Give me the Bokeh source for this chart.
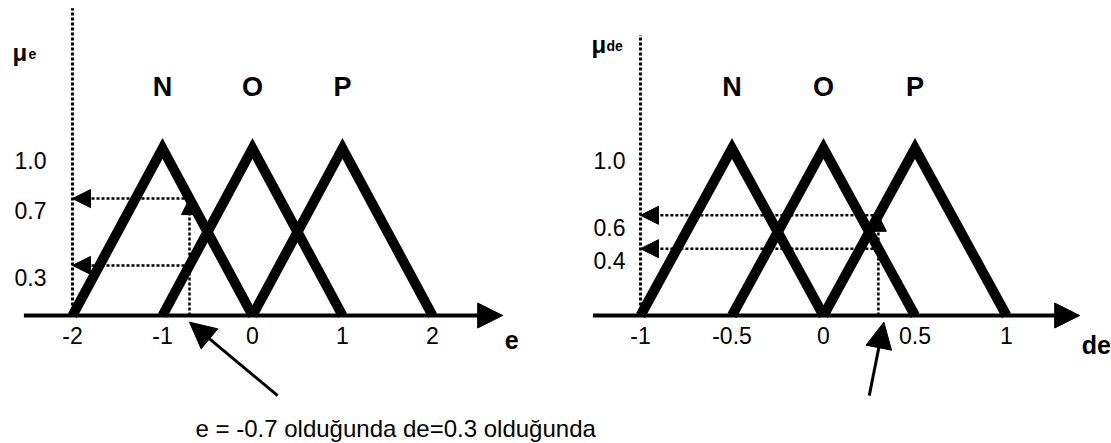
from bokeh.plotting import figure
from bokeh.models import Range1d, Arrow, NormalHead, Label
from bokeh.core.properties import value
from bokeh.embed import file_html
from bokeh.resources import INLINE

# --- fuzzy sets for the error e (triangles: left foot, peak, right foot) ---
E_N = [-2, -1, 0]
E_O = [-1, 0, 1]
E_P = [0, 1, 2]
# --- fuzzy sets for the change of error de ---
DE_N = [-1, -0.5, 0]
DE_O = [-0.5, 0, 0.5]
DE_P = [0, 0.5, 1]
MU_TRI = [0, 1, 0]
SET_NAMES = ["N", "O", "P"]

E_TICKS = [-2, -1, 0, 1, 2]
E_TICK_LABELS = ["-2", "-1", "0", "1", "2"]
DE_TICKS = [-1, -0.5, 0, 0.5, 1]
DE_TICK_LABELS = ["-1", "-0.5", "0", "0.5", "1"]

E_MU_TICKS = [1.0, 0.7, 0.3]
DE_MU_TICKS = [1.0, 0.6, 0.4]

# crisp inputs and the membership degrees they produce
E_INPUT = -0.7
E_DEGREES = [0.7, 0.3]
DE_INPUT = 0.3
DE_DEGREES = [0.6, 0.4]

CAPTION = "e = -0.7 olduğunda de=0.3 olduğunda"

# --- page geometry (pixels) ---
W, H = 1111, 443
E0_PX, E_SCALE = 72, 90       # where e = -2 sits, px per unit of e
DE0_PX, DE_SCALE = 640, 183   # where de = -1 sits, px per unit of de
BASE_PX, Y_SCALE = 315, 167   # baseline (mu = 0) from the top, px per unit of mu

FONT = "Liberation Sans"
DOT = "3 2"

p = figure(
    width=W, height=H,
    x_range=Range1d(-2 - E0_PX / E_SCALE, -2 + (W - E0_PX) / E_SCALE),
    y_range=Range1d(-(H - BASE_PX) / Y_SCALE, BASE_PX / Y_SCALE),
    x_axis_type=None, y_axis_type=None,
    toolbar_location=None, output_backend="svg",
    min_border=0, outline_line_color=None,
    background_fill_color="white", border_fill_color="white",
)
p.extra_x_ranges = {"de": Range1d(-1 - DE0_PX / DE_SCALE, -1 + (W - DE0_PX) / DE_SCALE)}


def head(size):
    return NormalHead(size=size, fill_color="black", line_color="black")


def draw_panel(sets, ticks, tick_labels, mu_ticks, x_input, degrees,
               x_min, axis_lo, axis_hi, mu_top, name, label_gap, rn):
    # dotted membership axis
    p.line([x_min, x_min], [0, mu_top], line_color="black", line_width=3,
           line_dash=DOT, x_range_name=rn)

    # horizontal axis with arrow head
    p.add_layout(Arrow(x_start=axis_lo, y_start=0, x_end=axis_hi, y_end=0,
                       line_width=4, line_color="black", end=head(25),
                       x_range_name=rn))

    # triangular membership functions
    for xs in sets:
        p.line(xs, MU_TRI, line_color="black", line_width=10,
               line_join="miter", x_range_name=rn)

    # set names above the peaks
    p.text(x=[xs[1] for xs in sets], y=[1] * len(sets), text=SET_NAMES,
           text_align="center", text_baseline="middle", y_offset=-62,
           text_font=value(FONT), text_font_style="bold",
           text_font_size="27px", text_color="black", x_range_name=rn)

    # tick labels on the variable axis
    p.text(x=ticks, y=[0] * len(ticks), text=tick_labels,
           text_align="center", text_baseline="top", y_offset=11,
           text_font=value(FONT), text_font_size="23px",
           text_color="black", x_range_name=rn)
    p.text(x=[axis_hi], y=[0], text=[name], text_align="left",
           text_baseline="top", x_offset=2, y_offset=15,
           text_font=value(FONT), text_font_style="bold",
           text_font_size="25px", text_color="black", x_range_name=rn)

    # membership grade labels
    p.text(x=[x_min] * len(mu_ticks), y=mu_ticks,
           text=[f"{v:.1f}" for v in mu_ticks],
           text_align="right", text_baseline="middle",
           x_offset=-label_gap, y_offset=12,
           text_font=value(FONT), text_font_size="23px",
           text_color="black", x_range_name=rn)

    # dotted projection of the crisp input
    p.add_layout(Arrow(x_start=x_input, y_start=0, x_end=x_input, y_end=max(degrees),
                       line_width=2.5, line_dash=DOT, line_color="black",
                       end=head(16), x_range_name=rn))
    for d in degrees:
        p.add_layout(Arrow(x_start=x_input, y_start=d, x_end=x_min, y_end=d,
                           line_width=2.5, line_dash=DOT, line_color="black",
                           end=head(18), x_range_name=rn))


draw_panel([E_N, E_O, E_P], E_TICKS, E_TICK_LABELS, E_MU_TICKS, E_INPUT, E_DEGREES,
           x_min=E_TICKS[0], axis_lo=-2.54, axis_hi=2.78, mu_top=1.84,
           name="e", label_gap=26, rn="default")
draw_panel([DE_N, DE_O, DE_P], DE_TICKS, DE_TICK_LABELS, DE_MU_TICKS, DE_INPUT, DE_DEGREES,
           x_min=DE_TICKS[0], axis_lo=-1.26, axis_hi=1.40, mu_top=1.68,
           name="de", label_gap=15, rn="de")

# pointers from the caption to the crisp inputs
p.add_layout(Arrow(x_start=E_INPUT + 0.98, y_start=-0.48, x_end=E_INPUT, y_end=-0.04,
                   line_width=3, line_color="black", end=head(26)))
p.add_layout(Arrow(x_start=DE_INPUT - 0.05, y_start=-0.48, x_end=DE_INPUT + 0.03, y_end=-0.04,
                   line_width=3, line_color="black", end=head(26),
                   x_range_name="de"))

# membership axis titles: mu with subscript
for x0, sub, ybase, sub_dx in [(12, "e", 52, 16), (591, "de", 44, 15)]:
    p.add_layout(Label(x=x0, y=H - ybase, x_units="screen", y_units="screen",
                       text="μ", text_font=FONT, text_font_style="bold",
                       text_font_size="24px", text_baseline="alphabetic",
                       text_color="black"))
    p.add_layout(Label(x=x0 + sub_dx, y=H - ybase - 1, x_units="screen", y_units="screen",
                       text=sub, text_font=FONT, text_font_style="bold",
                       text_font_size="14px", text_baseline="alphabetic",
                       text_color="black"))

p.add_layout(Label(x=195, y=H - 428, x_units="screen", y_units="screen",
                   text=CAPTION, text_font=FONT,
                   text_font_size="24px", text_baseline="alphabetic",
                   text_color="black"))

open("out.html", "w").write(file_html(p, INLINE))
